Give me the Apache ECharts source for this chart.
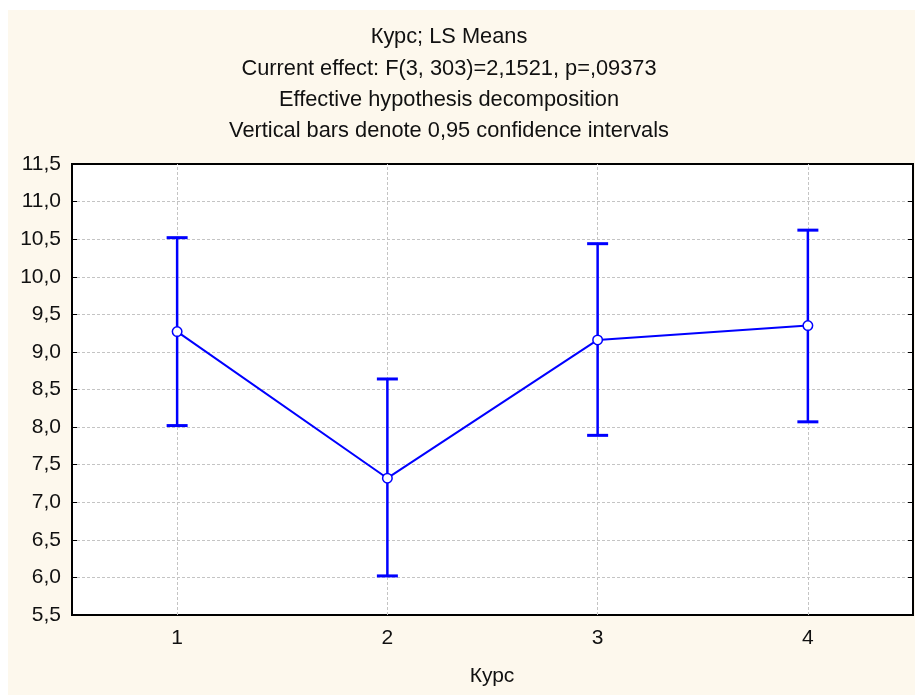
<!DOCTYPE html>
<html>
<head>
<meta charset="utf-8">
<script src="https://cdn.jsdelivr.net/npm/echarts@6/dist/echarts.min.js"></script>
<style>
  html, body { margin: 0; padding: 0; background: #ffffff; }
  #frame { position: absolute; left: 8px; top: 10px; width: 907px; height: 685px; background: #fdf8ed; }
  #chart { position: absolute; left: 0; top: 0; width: 920px; height: 697px; }
</style>
</head>
<body>
<div id="frame"></div>
<div id="chart"></div>
<script>
// Course groups and LS means with 0.95 confidence limits
const categories = ['1', '2', '3', '4'];
const means = [9.27, 7.32, 9.16, 9.35];
const upperCI = [10.52, 8.64, 10.44, 10.62];
const lowerCI = [8.02, 6.02, 7.89, 8.07];

const titleLines = [
  'Курс; LS Means',
  'Current effect: F(3, 303)=2,1521, p=,09373',
  'Effective hypothesis decomposition',
  'Vertical bars denote 0,95 confidence intervals'
];
const xAxisTitle = 'Курс';

const FONT = '"Liberation Sans", Arial, sans-serif';
const BLUE = '#0000ff';
const GRID = '#c4c4c4';
const TEXT = '#111111';

const chart = echarts.init(document.getElementById('chart'), null, { renderer: 'canvas' });

const ciData = categories.map((c, i) => [i, lowerCI[i], upperCI[i]]);

const titleY = [37, 69, 100, 131];

const option = {
  animation: false,
  grid: {
    left: 72, top: 164, right: 7, bottom: 82,
    show: true, backgroundColor: '#ffffff', borderColor: '#000000', borderWidth: 2
  },
  graphic: titleLines.map((t, i) => ({
    type: 'text', x: 449, y: titleY[i], silent: true,
    style: { text: t, fill: TEXT, font: '21.8px ' + FONT, textAlign: 'center', textVerticalAlign: 'middle' }
  })).concat([{
    type: 'text', x: 492, y: 676, silent: true,
    style: { text: xAxisTitle, fill: TEXT, font: '21px ' + FONT, textAlign: 'center', textVerticalAlign: 'middle' }
  }]),
  xAxis: [{
    type: 'category', data: categories, position: 'bottom', boundaryGap: true,
    axisLine: { lineStyle: { color: '#000', width: 2 } },
    axisTick: { inside: true, alignWithLabel: true, length: 5, lineStyle: { color: '#000', width: 1 } },
    axisLabel: { color: TEXT, fontFamily: FONT, fontSize: 21, margin: 13 },
    splitLine: { show: false }
  }, {
    type: 'category', data: categories, position: 'top', boundaryGap: true,
    axisLine: { lineStyle: { color: '#000', width: 2 } },
    axisTick: { inside: true, alignWithLabel: true, length: 5, lineStyle: { color: '#000', width: 1 } },
    axisLabel: { show: false },
    splitLine: { show: false }
  }],
  yAxis: [{
    type: 'value', min: 5.5, max: 11.5, interval: 0.5, position: 'left',
    axisLine: { show: true, lineStyle: { color: '#000', width: 2 } },
    axisTick: { show: true, inside: true, length: 5, lineStyle: { color: '#000', width: 1 } },
    axisLabel: {
      color: TEXT, fontFamily: FONT, fontSize: 21, margin: 11,
      formatter: v => v.toFixed(1).replace('.', ',')
    },
    splitLine: { show: true, lineStyle: { color: GRID, type: [3, 2], width: 1 } }
  }, {
    type: 'value', min: 5.5, max: 11.5, interval: 0.5, position: 'right',
    axisLine: { show: true, lineStyle: { color: '#000', width: 2 } },
    axisTick: { show: true, inside: true, length: 5, lineStyle: { color: '#000', width: 1 } },
    axisLabel: { show: false },
    splitLine: { show: false }
  }],
  series: [
    {
      // vertical dashed grid lines at each category, kept beneath the marks
      type: 'line', data: [], z: 1, silent: true,
      markLine: {
        z: 1, silent: true, symbol: 'none', label: { show: false },
        lineStyle: { color: GRID, type: [3, 2], width: 1 },
        data: categories.map(c => ({ xAxis: c }))
      }
    },
    {
      type: 'custom', z: 6, silent: true,
      data: ciData,
      renderItem: (params, api) => {
        const x = api.value(0);
        const lo = api.coord([x, api.value(1)]);
        const hi = api.coord([x, api.value(2)]);
        const half = 10.5;
        const stem = { stroke: BLUE, lineWidth: 2.5 };
        const cap = { stroke: BLUE, lineWidth: 3 };
        return {
          type: 'group',
          children: [
            { type: 'line', shape: { x1: hi[0], y1: hi[1], x2: lo[0], y2: lo[1] }, style: stem },
            { type: 'line', shape: { x1: hi[0] - half, y1: hi[1], x2: hi[0] + half, y2: hi[1] }, style: cap },
            { type: 'line', shape: { x1: lo[0] - half, y1: lo[1], x2: lo[0] + half, y2: lo[1] }, style: cap }
          ]
        };
      }
    },
    {
      type: 'line', z: 7, silent: true,
      data: means,
      symbol: 'circle', symbolSize: 9.5,
      itemStyle: { color: '#ffffff', borderColor: BLUE, borderWidth: 1.5 },
      lineStyle: { color: BLUE, width: 2 }
    }
  ]
};

chart.setOption(option);
</script>
</body>
</html>
